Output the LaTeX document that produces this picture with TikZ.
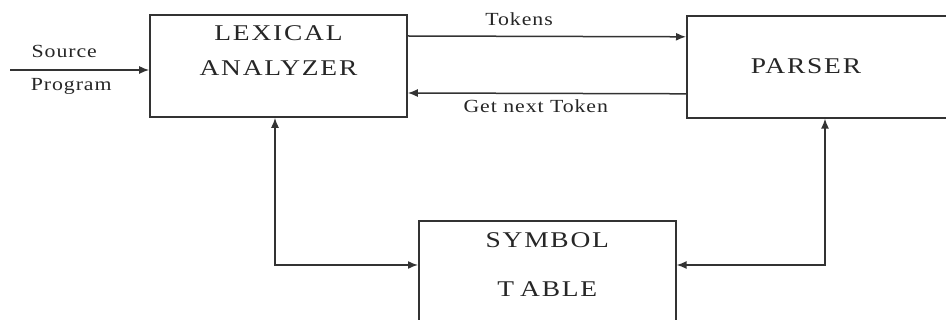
\documentclass[tikz,border=0pt]{standalone}
\usepackage{fontspec}
\setmainfont{Liberation Serif}
\newfontfamily\boxfont[FakeStretch=1.22,LetterSpace=8]{Liberation Serif}
\newfontfamily\labfont[FakeStretch=1.18,LetterSpace=5]{Liberation Serif}
\usetikzlibrary{arrows.meta,positioning}

\begin{document}
\begin{tikzpicture}[x=1pt,y=-1pt,>={Latex[length=10pt,width=8pt]},
    line width=1.5pt,draw=black!80,
    blk/.style={draw=black!80,line width=1.6pt,inner sep=0pt},
    btxt/.style={font=\boxfont\fontsize{22.5}{35}\selectfont,align=center,inner sep=0pt,text=black!85},
    ltxt/.style={font=\labfont\fontsize{18.5}{22}\selectfont,inner sep=0pt,text=black!85}]
  \useasboundingbox (0,0) rectangle (946,320);
  % the three blocks
  \node[blk,minimum width=257pt,minimum height=102pt] (lex) at (278.5,66) {};
  \node[blk,minimum width=276pt,minimum height=102pt,anchor=north west] (par) at (686,15) {};
  \node[blk,minimum width=257pt,minimum height=120pt,anchor=north west] (sym) at (418,220) {};
  \node[btxt,below=11pt of lex.north] (lexname) {LEXICAL\\ANALYZER};
  \node[btxt] (parname) at (806,66) {PARSER};
  \node[btxt,font=\boxfont\fontsize{22.5}{49}\selectfont,below=12pt of sym.north] (symname) {SYMBOL\\T\kern6pt ABLE};
  % connectors
  \coordinate (src) at (10,70);
  \coordinate (lc) at (275,265);
  \coordinate (rc) at (825,265);
  \draw[->] (src) -- node[ltxt,pos=.39,above=12pt]{Source}
    node[ltxt,pos=.44,below=8pt]{Program} (src -| lex.west);
  \draw[->] ([yshift=30pt]lex.east) -- node[ltxt,pos=.4,above=10pt]{Tokens} ([yshift=30pt]par.west);
  \draw[->] ([yshift=-27pt]par.west) -- node[ltxt,pos=.54,below=6pt]{Get next Token} ([yshift=-27pt]lex.east);
  \draw[<->] (lex.south -| lc) |- (sym.west |- lc);
  \draw[<->] (par.south -| rc) |- (sym.east |- rc);
\end{tikzpicture}
\end{document}
